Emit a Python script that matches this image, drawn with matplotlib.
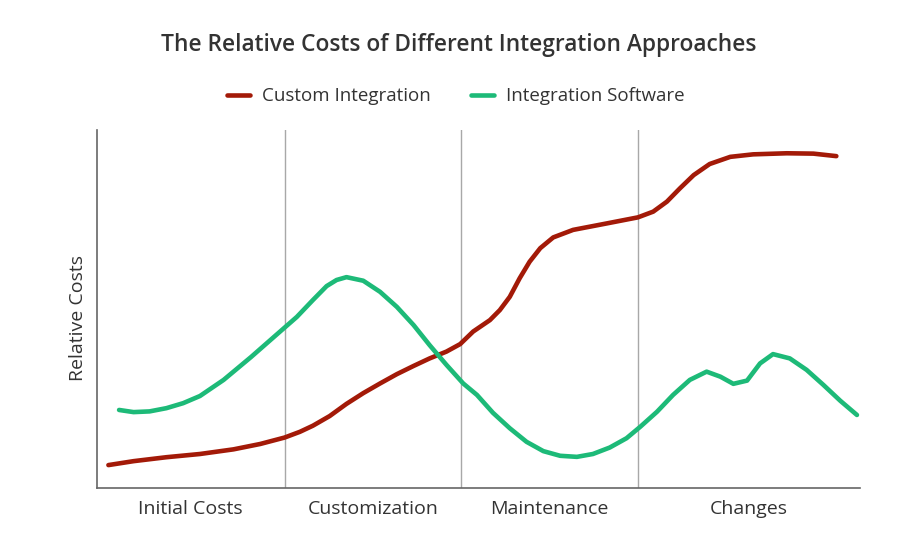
import matplotlib.pyplot as plt

# approach stages along the x axis (0-100 timeline)
stages = ['Initial Costs', 'Customization', 'Maintenance', 'Changes']
stage_bounds = [0, 24.6, 47.7, 70.9, 100]

# y on a 0-100 relative scale
custom_x = [1.5, 4.8, 9.1, 13.5, 17.9, 21.4, 24.6, 26.6, 28.3, 30.5, 32.7, 34.9,
            37.1, 39.3, 41.5, 43.6, 45.8, 47.6, 49.3, 51.5, 52.8, 54.1, 55.4, 56.7,
            58.1, 59.8, 62.4, 66.8, 70.9, 72.9, 74.7, 76.4, 78.2, 80.3, 83.0, 86.0,
            90.4, 93.9, 96.9]
custom_y = [6.4, 7.5, 8.6, 9.5, 10.8, 12.3, 14.1, 15.7, 17.4, 20.1, 23.5, 26.5,
            29.2, 31.8, 34.1, 36.2, 38.1, 40.2, 43.7, 46.9, 49.7, 53.4, 58.6, 63.2,
            67.0, 70.0, 72.1, 73.9, 75.6, 77.2, 80.0, 83.7, 87.4, 90.5, 92.5, 93.2,
            93.5, 93.4, 92.7]

software_x = [2.9, 4.8, 6.9, 9.1, 11.3, 13.5, 16.6, 20.2, 24.0, 26.2, 28.3, 30.1,
              31.4, 32.7, 34.9, 37.1, 39.3, 41.5, 43.6, 45.8, 48.0, 49.8, 51.9, 54.1,
              56.3, 58.5, 60.7, 62.9, 65.0, 67.2, 69.4, 71.2, 73.4, 75.5, 77.7, 79.9,
              81.7, 83.4, 85.2, 86.9, 88.6, 90.8, 93.0, 95.2, 97.4, 99.6]
software_y = [21.8, 21.2, 21.4, 22.3, 23.7, 25.7, 30.2, 36.6, 43.7, 47.8, 52.5, 56.4,
              58.1, 58.9, 57.9, 54.8, 50.6, 45.5, 39.9, 34.4, 29.2, 26.0, 21.0, 16.7,
              12.9, 10.3, 9.0, 8.7, 9.5, 11.3, 13.9, 17.1, 21.3, 26.0, 30.2, 32.5,
              31.1, 29.1, 30.0, 34.8, 37.4, 36.2, 33.0, 28.8, 24.4, 20.4]

red = '#a31a08'
green = '#1dba78'
txt = '#333333'
font = 'Open Sans'

fig = plt.figure(figsize=(9.19, 5.49), dpi=100)
ax = fig.add_axes([0.1055, 0.1111, 0.8303, 0.6521])

ax.plot(custom_x, custom_y, color=red, lw=3.3, solid_capstyle='round',
        solid_joinstyle='round', label='Custom Integration')
ax.plot(software_x, software_y, color=green, lw=3.3, solid_capstyle='round',
        solid_joinstyle='round', label='Integration Software')

for b in stage_bounds[1:-1]:
    ax.axvline(b, color='#a8a8a8', lw=1, zorder=0)

ax.set_xlim(0, 100)
ax.set_ylim(0, 100)
centers = [(stage_bounds[i] + stage_bounds[i + 1]) / 2 for i in range(len(stages))]
ax.set_xticks(centers)
ax.set_xticklabels(stages, fontsize=14, color=txt, family=font)
ax.tick_params(axis='x', length=0, pad=8.5)
ax.set_yticks([])
ax.set_ylabel('Relative Costs', fontsize=14, color=txt, family=font)
ax.yaxis.set_label_coords(-0.013, 0.476)

for s in ['top', 'right']:
    ax.spines[s].set_visible(False)
for s in ['left', 'bottom']:
    ax.spines[s].set_color('#666666')
    ax.spines[s].set_linewidth(1.2)

fig.text(0.499, 0.918, 'The Relative Costs of Different Integration Approaches',
         ha='center', va='center', fontsize=16.4, fontweight='semibold', color=txt, family=font)

fig.legend(loc='center', bbox_to_anchor=(0.496, 0.825), ncol=2, frameon=False,
           prop={'family': font, 'size': 13.5}, handlelength=1.25, columnspacing=2.1,
           handletextpad=0.65, labelcolor=txt)

fig.savefig('out.png', dpi=100)
